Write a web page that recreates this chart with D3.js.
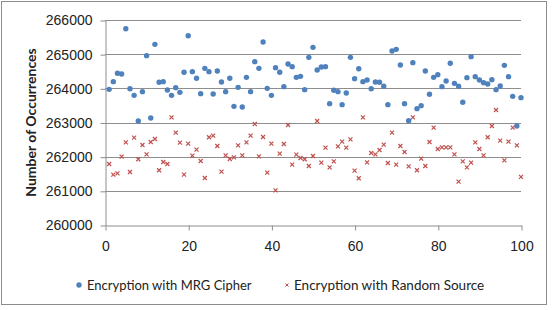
<!DOCTYPE html>
<html>
<head>
	<meta charset="utf-8">
	<title>Occurrences</title>
	<script type="text/javascript" src="https://cdn.jsdelivr.net/npm/d3@7"></script>
	<style>
		body {
			margin: 0;
			background: #fff;
			font-family: Lato, "Open Sans", sans-serif;
		}
	</style>
</head>
<body>

	<div id="chart"></div>

	<script>

	// data

	const seriesNames = ["Encryption with MRG Cipher", "Encryption with Random Source"];

	const mrgCipher = [
		263970, 264195, 264440, 264420, 265746, 263990, 263795, 263044, 263903, 264956,
		263132, 265288, 264176, 264195, 263951, 263795, 264020, 263883, 264469, 265541,
		264488, 264293, 263844, 264585, 264488, 263834, 264507, 264186, 263903, 264293,
		263473, 264029, 263454, 264322, 263903, 264781, 264585, 265356, 264000, 263795,
		264605, 264469, 264049, 264712, 264634, 264322, 264351, 263961, 264907, 265200,
		264537, 264624, 264634, 263551, 263942, 263903, 263522, 263864, 264907, 264283,
		264575, 264195, 264244, 263990, 264186, 264176, 264059, 263522, 265093, 265141,
		264683, 263551, 263054, 264751, 263405, 263493, 264507, 263825, 264322, 264400,
		264049, 264215, 264732, 264146, 264059, 263591, 264312, 264927, 264342, 264244,
		264166, 264127, 264254, 263961, 264068, 264673, 264342, 263766, 262898, 263727
	];

	const randomSource = [
		261786, 261473, 261513, 262000, 262420, 261552, 262557, 261923, 262342, 262069,
		262430, 262518, 261601, 261844, 261786, 263152, 262703, 262409, 261473, 262380,
		262029, 262205, 261874, 261376, 262567, 262615, 262313, 261561, 262040, 261932,
		261981, 262332, 262040, 262420, 262615, 262956, 262010, 262576, 261532, 262380,
		261015, 262088, 262371, 262927, 261766, 262059, 261961, 261923, 261727, 262020,
		263044, 261824, 262264, 261688, 261864, 262303, 262439, 262264, 262508, 261590,
		261367, 263152, 261835, 262108, 262069, 262195, 262351, 261815, 262703, 261766,
		262313, 262137, 261717, 263152, 261601, 261941, 261727, 262430, 262849, 262225,
		262274, 262274, 262274, 262069, 261268, 261864, 261688, 261824, 262420, 262225,
		262040, 262567, 262898, 263366, 262468, 261893, 262439, 262849, 262332, 261409
	];

	const xTicks = [0, 20, 40, 60, 80, 100];
	const yTicks = [260000, 261000, 262000, 263000, 264000, 265000, 266000];

	// customization

	const width  = 552;
	const height = 310;
	const colors = ["#4F81BD", "#C0504D"];
	const gridColor = "#8e8e8e";

	const x = d3.scaleLinear([0, 100], [105, 521]);
	const y = d3.scaleLinear([260000, 266000], [225, 20]);

	const svg = d3.select("#chart")
		.append("svg")
		.attr("width", width)
		.attr("height", height)
		.attr("font-family", "Lato, 'Open Sans', sans-serif");

	// chart frame
	svg.append("rect")
		.attr("x", 1.5)
		.attr("y", 1.5)
		.attr("width", 545)
		.attr("height", 303)
		.attr("fill", "#fff")
		.attr("stroke", "#8c8c8c");

	// horizontal gridlines
	svg.append("g")
		.selectAll("line")
		.data(yTicks.slice(1))
		.join("line")
		.attr("x1", x(0))
		.attr("x2", x(100))
		.attr("y1", d => Math.round(y(d)) + 0.5)
		.attr("y2", d => Math.round(y(d)) + 0.5)
		.attr("stroke", gridColor);

	// y axis
	const yAxis = svg.append("g")
		.attr("transform", `translate(${x(0) + 0.5},0.5)`)
		.call(d3.axisLeft(y).tickValues(yTicks).tickFormat(d3.format("d")).tickSize(5).tickPadding(8).tickSizeOuter(0));

	// x axis
	const xAxis = svg.append("g")
		.attr("transform", `translate(0.5,${y(260000) + 0.5})`)
		.call(d3.axisBottom(x).tickValues(xTicks).tickSize(5).tickPadding(11).tickSizeOuter(0));

	[yAxis, xAxis].forEach(ax => {
		ax.select(".domain").attr("stroke", gridColor);
		ax.selectAll(".tick line").attr("stroke", gridColor);
		ax.selectAll(".tick text")
			.attr("fill", "#222")
			.style("font-size", "14px");
	});

	svg.append("text")
		.attr("transform", `translate(31,${(y(260000) + y(266000)) / 2}) rotate(-90)`)
		.attr("text-anchor", "middle")
		.attr("dy", "0.35em")
		.attr("font-weight", "bold")
		.attr("fill", "#222")
		.style("font-size", "14px")
		.text("Number of Occurrences");

	// markers
	const cross = "M-2,-2L2,2M-2,2L2,-2";

	svg.append("g")
		.selectAll("circle")
		.data(mrgCipher)
		.join("circle")
		.attr("cx", (d, i) => x(i + 1))
		.attr("cy", d => y(d))
		.attr("r", 2.7)
		.attr("fill", colors[0]);

	svg.append("g")
		.selectAll("path")
		.data(randomSource)
		.join("path")
		.attr("transform", (d, i) => `translate(${x(i + 1)},${y(d)})`)
		.attr("d", cross)
		.attr("fill", "none")
		.attr("stroke", colors[1])
		.attr("stroke-width", 1.2);

	// legend
	const legend = svg.append("g")
		.style("font-size", "13px");

	legend.append("circle")
		.attr("cx", 79)
		.attr("cy", 285)
		.attr("r", 2.7)
		.attr("fill", colors[0]);

	legend.append("text")
		.attr("x", 87)
		.attr("y", 285)
		.attr("dy", "0.35em")
		.attr("fill", "#222")
		.text(seriesNames[0]);

	legend.append("path")
		.attr("transform", "translate(287,285)")
		.attr("d", "M-1.5,-1.5L1.5,1.5M-1.5,1.5L1.5,-1.5")
		.attr("fill", "none")
		.attr("stroke", colors[1])
		.attr("stroke-width", 1);

	legend.append("text")
		.attr("x", 294)
		.attr("y", 285)
		.attr("dy", "0.35em")
		.attr("fill", "#222")
		.style("font-size", "13.5px")
		.text(seriesNames[1]);

	</script>

</body>
</html>
